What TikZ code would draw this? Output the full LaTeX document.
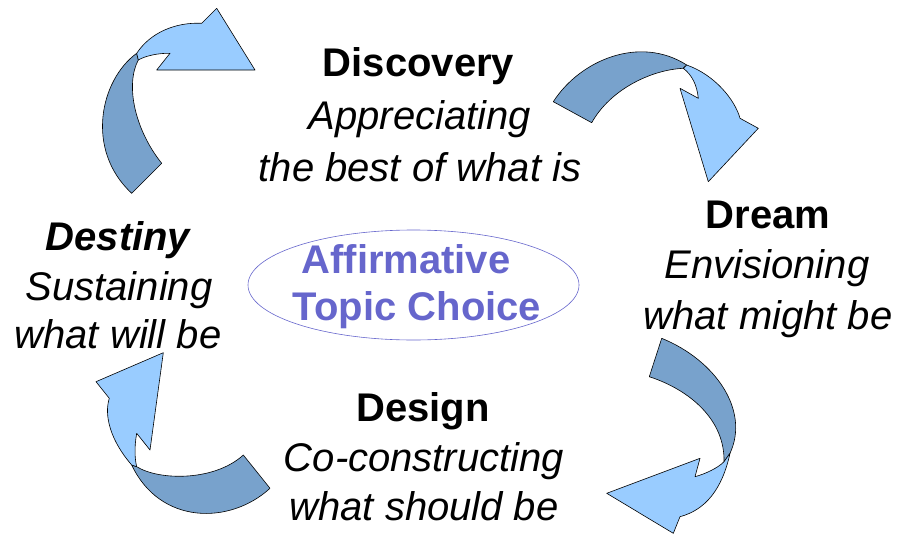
\documentclass[tikz,border=0pt]{standalone}
\usepackage{fontspec}
\setmainfont{Liberation Sans}
\definecolor{ribbondark}{RGB}{120,162,204}
\definecolor{ribbonlight}{RGB}{153,204,255}
\definecolor{topicblue}{RGB}{102,102,204}
\begin{document}
\begin{tikzpicture}[x=1pt,y=-1pt,
	phase/.style={font=\fontsize{40}{48}\selectfont\bfseries,anchor=base,inner sep=0pt},
	gloss/.style={font=\fontsize{40}{48}\selectfont\itshape,anchor=base,inner sep=0pt},
	topic/.style={font=\fontsize{40}{48}\selectfont\bfseries,text=topicblue,anchor=base,inner sep=0pt},
	back/.style={fill=ribbondark,draw=black,line width=0.6pt,line join=round},
	front/.style={fill=ribbonlight,draw=black,line width=0.6pt,line join=round}]
	\useasboundingbox (0,0) rectangle (899,535);

	% top left ribbon
	\draw[back] (136.7,53.3) .. controls (100,80) and (85,150) .. (131.7,193.3)
		-- (161.7,163.3) .. controls (135,130) and (125,85) .. (138.3,60) -- cycle;
	\draw[front] (136.7,53.3) .. controls (150,33) and (175,22) .. (201.7,23.3)
		-- (216.7,8.3) -- (255,70) -- (156.7,70)
		-- (170,53.3) .. controls (158,53) and (145,56) .. (138.3,60) -- cycle;

	% top right ribbon
	\draw[back] (553.3,101.7) .. controls (580,60) and (640,35) .. (686.7,65)
		-- (683.3,68.3) .. controls (650,70) and (610,90) .. (591.7,122.7) -- cycle;
	\draw[front] (686.7,65) .. controls (715,75) and (735,100) .. (740,118.3)
		-- (758.3,128.3) -- (708.3,181.7) -- (680,88.3)
		-- (698.3,98.3) .. controls (697,85) and (692,75) .. (683.3,68.3) -- cycle;

	% bottom right ribbon
	\draw[back] (661.7,338.3) .. controls (715,360) and (750,410) .. (730,453.3)
		-- (724,461.7) .. controls (725,420) and (690,390) .. (649.3,376.7) -- cycle;
	\draw[front] (730,453.3) .. controls (722,490) and (705,510) .. (680,516.7)
		-- (673.3,533.3) -- (606.7,493.3) -- (700,458.3)
		-- (695,476.7) .. controls (705,474) and (718,468) .. (724,461.7) -- cycle;

	% bottom left ribbon
	\draw[back] (270,488.3) .. controls (230,525) and (160,525) .. (131.7,465)
		-- (136.7,466.7) .. controls (160,481) and (215,481) .. (243.3,455) -- cycle;
	\draw[front] (131.7,465) .. controls (110,440) and (104,415) .. (109.3,398.3)
		-- (96,381.7) -- (163.3,352.7) -- (150,450)
		-- (136.7,433.3) .. controls (134,448) and (135,460) .. (136.7,466.7) -- cycle;

	% centre
	\draw[topicblue,line width=0.6pt] (413.5,285) ellipse [x radius=165.5,y radius=55];
	\node[topic] (aff) at (406,273.3) {Affirmative};
	\node[topic] (choice) at (417,320) {Topic Choice};

	% the four phases
	\node[phase] (disc) at (418.5,76.7) {Discovery};
	\node[gloss] (disc1) at (420,129.3) {Appreciating};
	\node[gloss] (disc2) at (420,181.7) {the best of what is};

	\node[phase] (dream) at (768,228.3) {Dream};
	\node[gloss] (dream1) at (767,278.3) {Envisioning};
	\node[gloss] (dream2) at (768,329.3) {what might be};

	\node[phase] (design) at (423,421.7) {Design};
	\node[gloss] (design1) at (424,471.7) {Co-constructing};
	\node[gloss] (design2) at (424,520) {what should be};

	\node[phase,font=\fontsize{40}{48}\selectfont\bfseries\itshape] (dest) at (118,250) {Destiny};
	\node[gloss] (dest1) at (119,300) {Sustaining};
	\node[gloss] (dest2) at (118,348) {what will be};
\end{tikzpicture}
\end{document}
